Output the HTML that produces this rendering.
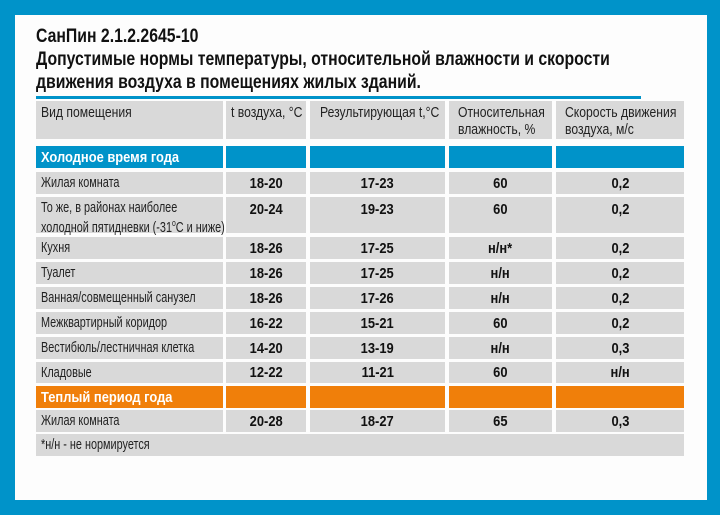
<!DOCTYPE html>
<html><head><meta charset="utf-8"><style>
*{margin:0;padding:0;box-sizing:border-box}
body{width:720px;height:515px;background:#0093c9;position:relative;overflow:hidden;font-family:"Liberation Sans",sans-serif;color:#222}
#w{position:absolute;left:15px;top:15px;width:692px;height:485px;background:#fdfdfd}
.c{position:absolute;background:#d9d9d9;display:flex;align-items:center;white-space:nowrap;overflow:visible}
.c span{display:inline-block;transform:scaleX(.76);transform-origin:0 50%;font-size:14.3px}
.l{padding-left:5px}
.v{justify-content:center}
.v span{transform-origin:50% 50%;font-weight:bold;font-size:15px;color:#111;transform:scaleX(.86)}
.b{background:#0093c9}
.o{background:#f07f0a}
.b span,.o span{color:#fff;font-weight:bold;font-size:15px;transform:scaleX(.86)}
.h{align-items:flex-start;padding-top:4px;line-height:17px}
.hd span{font-size:14.5px;transform:scaleX(.84)}
.tt{position:absolute;left:36px;white-space:nowrap;font-weight:bold;font-size:19.5px;color:#111;transform:scaleX(.81);transform-origin:0 0}
</style></head><body>
<div id="w"></div>
<div class="tt" style="top:25px">СанПин 2.1.2.2645-10</div>
<div class="tt" style="top:48px">Допустимые нормы температуры, относительной влажности и скорости</div>
<div class="tt" style="top:71px">движения воздуха в помещениях жилых зданий.</div>
<div style="position:absolute;left:36px;top:96px;width:605px;height:3px;background:#0093c9"></div>

<div class="c l h hd" style="left:36px;top:101px;width:187px;height:38px"><span>Вид помещения</span></div>
<div class="c l h hd" style="left:226px;top:101px;width:80px;height:38px"><span>t воздуха, °C</span></div>
<div class="c l h hd" style="left:310px;top:101px;width:135px;height:38px;padding-left:10px"><span>Результирующая t,°C</span></div>
<div class="c l h hd" style="left:449px;top:101px;width:103px;height:38px;padding-left:9px"><span>Относительная<br>влажность, %</span></div>
<div class="c l h hd" style="left:556px;top:101px;width:128px;height:38px;padding-left:9px"><span>Скорость движения<br>воздуха, м/с</span></div>

<div class="c l b" style="left:36px;top:146px;width:187px;height:22px"><span>Холодное время года</span></div>
<div class="c b" style="left:226px;top:146px;width:80px;height:22px"></div>
<div class="c b" style="left:310px;top:146px;width:135px;height:22px"></div>
<div class="c b" style="left:449px;top:146px;width:103px;height:22px"></div>
<div class="c b" style="left:556px;top:146px;width:128px;height:22px"></div>

<div class="c l" style="left:36px;top:172px;width:187px;height:22px"><span>Жилая комната</span></div>
<div class="c v" style="left:226px;top:172px;width:80px;height:22px"><span>18-20</span></div>
<div class="c v" style="left:310px;top:172px;width:135px;height:22px"><span>17-23</span></div>
<div class="c v" style="left:449px;top:172px;width:103px;height:22px"><span>60</span></div>
<div class="c v" style="left:556px;top:172px;width:128px;height:22px"><span>0,2</span></div>

<div class="c l h" style="left:36px;top:197px;width:187px;height:36px;padding-top:4px;line-height:15px"><span>То же, в районах наиболее<br>холодной пятидневки (-31<sup style="font-size:9px">o</sup>C и ниже)</span></div>
<div class="c v h" style="left:226px;top:197px;width:80px;height:36px;padding-top:4px"><span>20-24</span></div>
<div class="c v h" style="left:310px;top:197px;width:135px;height:36px;padding-top:4px"><span>19-23</span></div>
<div class="c v h" style="left:449px;top:197px;width:103px;height:36px;padding-top:4px"><span>60</span></div>
<div class="c v h" style="left:556px;top:197px;width:128px;height:36px;padding-top:4px"><span>0,2</span></div>

<div class="c l" style="left:36px;top:237px;width:187px;height:22px"><span>Кухня</span></div>
<div class="c v" style="left:226px;top:237px;width:80px;height:22px"><span>18-26</span></div>
<div class="c v" style="left:310px;top:237px;width:135px;height:22px"><span>17-25</span></div>
<div class="c v" style="left:449px;top:237px;width:103px;height:22px"><span>н/н*</span></div>
<div class="c v" style="left:556px;top:237px;width:128px;height:22px"><span>0,2</span></div>

<div class="c l" style="left:36px;top:262px;width:187px;height:22px"><span>Туалет</span></div>
<div class="c v" style="left:226px;top:262px;width:80px;height:22px"><span>18-26</span></div>
<div class="c v" style="left:310px;top:262px;width:135px;height:22px"><span>17-25</span></div>
<div class="c v" style="left:449px;top:262px;width:103px;height:22px"><span>н/н</span></div>
<div class="c v" style="left:556px;top:262px;width:128px;height:22px"><span>0,2</span></div>

<div class="c l" style="left:36px;top:287px;width:187px;height:22px"><span>Ванная/совмещенный санузел</span></div>
<div class="c v" style="left:226px;top:287px;width:80px;height:22px"><span>18-26</span></div>
<div class="c v" style="left:310px;top:287px;width:135px;height:22px"><span>17-26</span></div>
<div class="c v" style="left:449px;top:287px;width:103px;height:22px"><span>н/н</span></div>
<div class="c v" style="left:556px;top:287px;width:128px;height:22px"><span>0,2</span></div>

<div class="c l" style="left:36px;top:312px;width:187px;height:22px"><span>Межквартирный коридор</span></div>
<div class="c v" style="left:226px;top:312px;width:80px;height:22px"><span>16-22</span></div>
<div class="c v" style="left:310px;top:312px;width:135px;height:22px"><span>15-21</span></div>
<div class="c v" style="left:449px;top:312px;width:103px;height:22px"><span>60</span></div>
<div class="c v" style="left:556px;top:312px;width:128px;height:22px"><span>0,2</span></div>

<div class="c l" style="left:36px;top:337px;width:187px;height:22px"><span>Вестибюль/лестничная клетка</span></div>
<div class="c v" style="left:226px;top:337px;width:80px;height:22px"><span>14-20</span></div>
<div class="c v" style="left:310px;top:337px;width:135px;height:22px"><span>13-19</span></div>
<div class="c v" style="left:449px;top:337px;width:103px;height:22px"><span>н/н</span></div>
<div class="c v" style="left:556px;top:337px;width:128px;height:22px"><span>0,3</span></div>

<div class="c l" style="left:36px;top:362px;width:187px;height:21px"><span>Кладовые</span></div>
<div class="c v" style="left:226px;top:362px;width:80px;height:21px"><span>12-22</span></div>
<div class="c v" style="left:310px;top:362px;width:135px;height:21px"><span>11-21</span></div>
<div class="c v" style="left:449px;top:362px;width:103px;height:21px"><span>60</span></div>
<div class="c v" style="left:556px;top:362px;width:128px;height:21px"><span>н/н</span></div>

<div class="c l o" style="left:36px;top:386px;width:187px;height:22px"><span>Теплый период года</span></div>
<div class="c o" style="left:226px;top:386px;width:80px;height:22px"></div>
<div class="c o" style="left:310px;top:386px;width:135px;height:22px"></div>
<div class="c o" style="left:449px;top:386px;width:103px;height:22px"></div>
<div class="c o" style="left:556px;top:386px;width:128px;height:22px"></div>

<div class="c l" style="left:36px;top:410px;width:187px;height:22px"><span>Жилая комната</span></div>
<div class="c v" style="left:226px;top:410px;width:80px;height:22px"><span>20-28</span></div>
<div class="c v" style="left:310px;top:410px;width:135px;height:22px"><span>18-27</span></div>
<div class="c v" style="left:449px;top:410px;width:103px;height:22px"><span>65</span></div>
<div class="c v" style="left:556px;top:410px;width:128px;height:22px"><span>0,3</span></div>

<div class="c l" style="left:36px;top:434px;width:648px;height:22px"><span>*н/н - не нормируется</span></div>
</body></html>
